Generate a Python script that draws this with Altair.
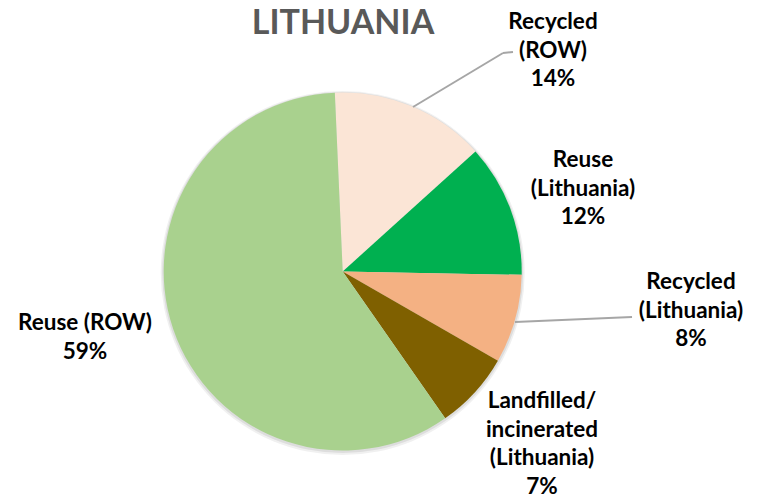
import math
import altair as alt
import pandas as pd

# ---- data ----
categories = [
    "Recycled (ROW)",
    "Reuse (Lithuania)",
    "Recycled (Lithuania)",
    "Landfilled/ incinerated (Lithuania)",
    "Reuse (ROW)",
]
values = [14, 12, 8, 7, 59]
label_names = [
    ["Recycled", "(ROW)"],
    ["Reuse", "(Lithuania)"],
    ["Recycled", "(Lithuania)"],
    ["Landfilled/", "incinerated", "(Lithuania)"],
    ["Reuse (ROW)"],
]
colors = ["#FBE5D6", "#00B050", "#F4B183", "#7F6000", "#A9D18E"]
title_text = "LITHUANIA"

# ---- layout (chart pixel coordinates) ----
CX, CY, R = 334.7, 263.5, 179
START = -0.044
label_x = [545, 575, 683, 534, 77]
label_y = [21, 159, 281, 400, 322]
# leader line segments: x1, y1, x2, y2
seg_x1 = [405, 495, 507]
seg_y1 = [99, 45, 314]
seg_x2 = [495, 505, 624]
seg_y2 = [45, 44, 309]

labels = ["\n".join(n + [f"{v}%"]) for n, v in zip(label_names, values)]

df = pd.DataFrame({
    "category": categories,
    "value": values,
    "order": list(range(len(values))),
    "label": labels,
    "lx": label_x,
    "ly": label_y,
})
seg = pd.DataFrame({"x1": seg_x1, "y1": seg_y1, "x2": seg_x2, "y2": seg_y2})

shadow = alt.Chart(pd.DataFrame({"a": [0]})).mark_arc(
    outerRadius=R + 3, theta=0, theta2=2 * math.pi, color="#000000", opacity=0.06
).encode(x=alt.value(CX), y=alt.value(CY + 1.5))
shadow2 = alt.Chart(pd.DataFrame({"a": [0]})).mark_arc(
    outerRadius=R + 1.5, theta=0, theta2=2 * math.pi, color="#000000", opacity=0.08
).encode(x=alt.value(CX), y=alt.value(CY + 1))

pie = alt.Chart(df).mark_arc(outerRadius=R).encode(
    theta=alt.Theta("value:Q", stack=True,
                    scale=alt.Scale(range=[START, 2 * math.pi + START])),
    color=alt.Color("category:N", scale=alt.Scale(domain=categories, range=colors), legend=None),
    order=alt.Order("order:Q"),
    x=alt.value(CX),
    y=alt.value(CY),
)

leaders = alt.Chart(seg).mark_rule(color="#A6A6A6", strokeWidth=2).encode(
    x=alt.X("x1:Q", scale=None, axis=None),
    y=alt.Y("y1:Q", scale=None, axis=None),
    x2="x2:Q",
    y2="y2:Q",
)

text = alt.Chart(df).mark_text(
    font="Lato", fontWeight="bold", fontSize=22.5, lineBreak="\n", lineHeight=28.5,
    align="center", baseline="alphabetic", color="#000000",
).encode(
    x=alt.X("lx:Q", scale=None, axis=None),
    y=alt.Y("ly:Q", scale=None, axis=None),
    text="label:N",
)

title = alt.Chart(pd.DataFrame({"t": [title_text]})).mark_text(
    font="Lato", fontWeight="bold", fontSize=34, align="center", baseline="alphabetic",
    color="#595959",
).encode(x=alt.value(335), y=alt.value(26), text="t:N")

chart = alt.layer(shadow, shadow2, pie, leaders, text, title).properties(
    width=750, height=492, padding=0, autosize=alt.AutoSizeParams(type="none"),
).configure_view(stroke=None)

chart.save("out.html", embed_options={"renderer": "svg", "actions": False})
